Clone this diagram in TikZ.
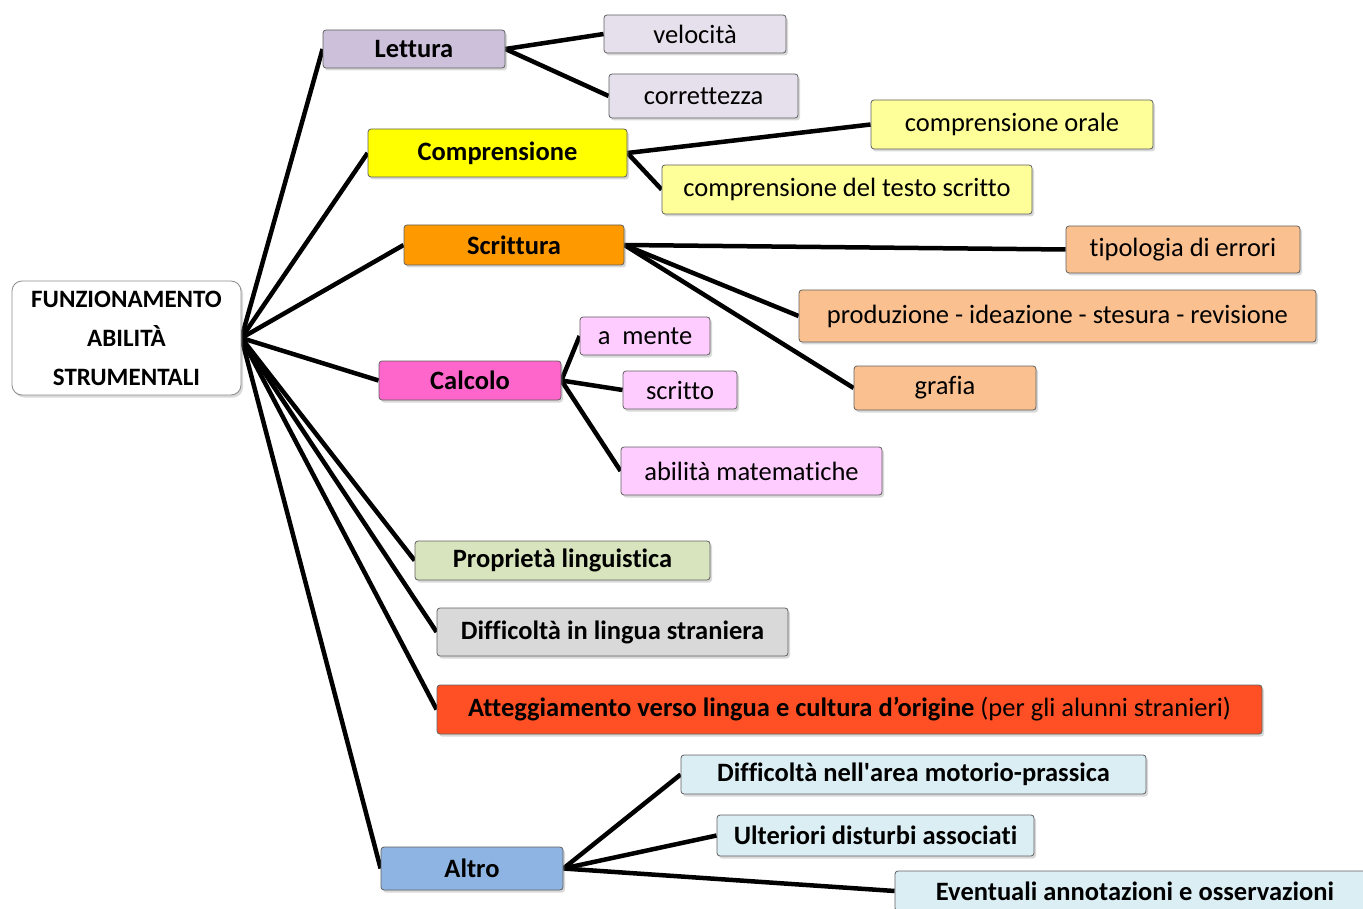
\documentclass[tikz,border=0pt]{standalone}
\usepackage{fontspec}
\setmainfont{Carlito}[Ligatures={NoCommon}]
\usetikzlibrary{shadows,backgrounds}
\definecolor{rootbd}{HTML}{8C8C8C}
\definecolor{lettC}{HTML}{CCC0DA}
\definecolor{lettL}{HTML}{E6E0EC}
\definecolor{compC}{HTML}{FFFF00}
\definecolor{compL}{HTML}{FFFF99}
\definecolor{scriC}{HTML}{FF9900}
\definecolor{scriL}{HTML}{FAC090}
\definecolor{calcC}{HTML}{FF66CC}
\definecolor{calcL}{HTML}{FFCCFF}
\definecolor{propC}{HTML}{D7E4BD}
\definecolor{diffC}{HTML}{D9D9D9}
\definecolor{attC}{HTML}{FF5025}
\definecolor{altC}{HTML}{8EB4E3}
\definecolor{altL}{HTML}{DBEEF4}
\tikzset{
  box/.style={draw=gray!75!black, line width=0.8pt, rounded corners=3pt, inner sep=0pt,
    align=center, font=\fontsize{26.5}{30}\selectfont,
    drop shadow={opacity=0.3, shadow xshift=2pt, shadow yshift=-2.5pt}},
  bbox/.style={box, font=\fontsize{26.5}{30}\selectfont\bfseries},
  link/.style={line width=4.5pt, black},
}
\begin{document}
\begin{tikzpicture}[x=1pt,y=-1pt]
\useasboundingbox (0,0) rectangle (1363,909);
% root
\node[box, fill=white, draw=rootbd, rounded corners=10pt, minimum width=229pt, minimum height=114pt,
  font=\fontsize{25}{39}\selectfont\bfseries] (root) at (126.5,338) {FUNZIONAMENTO\\ABILITÀ\\STRUMENTALI};
% level 1
\node[bbox, fill=lettC, minimum width=182pt, minimum height=38pt] (lett) at (414,49) {Lettura};
\node[bbox, fill=compC, minimum width=259pt, minimum height=48pt] (comp) at (497.5,153) {Comprensione};
\node[bbox, fill=scriC, minimum width=220pt, minimum height=40pt] (scri) at (514,245) {Scrittura};
\node[bbox, fill=calcC, minimum width=182pt, minimum height=39pt] (calc) at (470,380.5) {Calcolo};
\node[bbox, fill=propC, minimum width=295pt, minimum height=39pt] (prop) at (562.5,560.5) {Proprietà linguistica};
\node[bbox, fill=diffC, minimum width=351pt, minimum height=48pt] (diff) at (612.5,632) {Difficoltà in lingua straniera};
\node[box, fill=attC, minimum width=825pt, minimum height=49pt] (att) at (849.5,709.5) {\textbf{Atteggiamento verso lingua e cultura d’origine} (per gli alunni stranieri)};
\node[bbox, fill=altC, minimum width=182pt, minimum height=43pt] (alt) at (472,868.5) {Altro};
% level 2
\node[box, fill=lettL, minimum width=182pt, minimum height=38pt] (vel) at (695,34) {velocità};
\node[box, fill=lettL, minimum width=189pt, minimum height=44pt] (cor) at (703.5,96) {correttezza};
\node[box, fill=compL, minimum width=282pt, minimum height=49pt] (orale) at (1012,124.5) {comprensione orale};
\node[box, fill=compL, minimum width=370pt, minimum height=49pt] (testo) at (847,189.5) {comprensione del testo scritto};
\node[box, fill=scriL, minimum width=234pt, minimum height=47pt] (tipo) at (1183,249.5) {tipologia di errori};
\node[box, fill=scriL, minimum width=517pt, minimum height=52pt] (prod) at (1057.5,316) {produzione - ideazione - stesura - revisione};
\node[box, fill=scriL, minimum width=182pt, minimum height=44pt] (graf) at (945,388) {grafia};
\node[box, fill=calcL, minimum width=130pt, minimum height=38pt] (ment) at (645,336) {a\ \ mente};
\node[box, fill=calcL, minimum width=114pt, minimum height=38pt] (scr) at (680,390) {scritto};
\node[box, fill=calcL, minimum width=261pt, minimum height=48pt] (mat) at (751.5,471) {abilità matematiche};
\node[bbox, fill=altL, minimum width=465pt, minimum height=39pt] (moto) at (913.5,774.5) {Difficoltà nell\textquotesingle area motorio-prassica};
\node[bbox, fill=altL, minimum width=317pt, minimum height=41pt] (ult) at (875.5,835.5) {Ulteriori disturbi associati};
\node[bbox, fill=altL, minimum width=480pt, minimum height=40pt] (eve) at (1135,891) {Eventuali annotazioni e osservazioni};
% connectors
\begin{scope}[on background layer]
\foreach \n in {lett,comp,scri,calc,prop,diff,att,alt}
  \draw[link] (root.east) -- (\n.west);
\draw[link] (lett.east) -- (vel.west);
\draw[link] (lett.east) -- (cor.west);
\draw[link] (comp.east) -- (orale.west);
\draw[link] (comp.east) -- (testo.west);
\draw[link] (scri.east) -- (tipo.west);
\draw[link] (scri.east) -- (prod.west);
\draw[link] (scri.east) -- (graf.west);
\draw[link] (calc.east) -- (ment.west);
\draw[link] (calc.east) -- (scr.west);
\draw[link] (calc.east) -- (mat.west);
\draw[link] (alt.east) -- (moto.west);
\draw[link] (alt.east) -- (ult.west);
\draw[link] (alt.east) -- (eve.west);
\end{scope}
\end{tikzpicture}
\end{document}
